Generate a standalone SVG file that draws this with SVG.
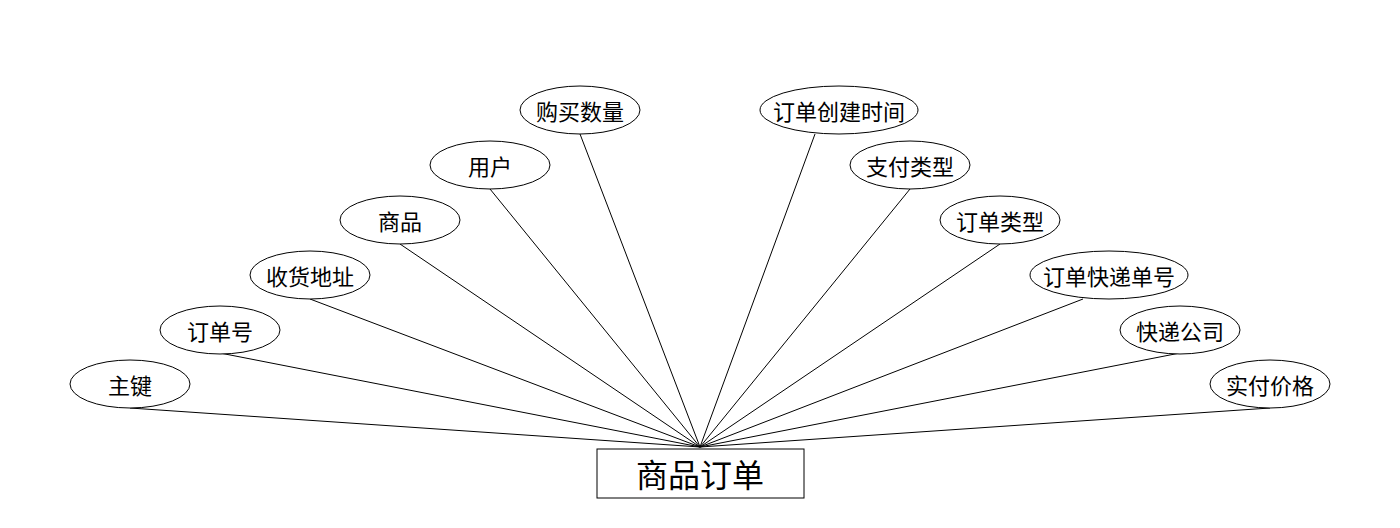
<svg xmlns="http://www.w3.org/2000/svg" width="1400" height="528" viewBox="0 0 1400 528">
<style>
.e{fill:#fff;stroke:#000;stroke-width:1}
.t{font-family:"Noto Sans CJK SC",sans-serif;font-size:22px;text-anchor:middle;dominant-baseline:central;fill:#000}
.c line{stroke:#000;stroke-width:1}
</style>
<rect width="1400" height="528" fill="#fff"/>
<g class="c" id="connectors">
<line x1="130" y1="408" x2="700" y2="447"/>
<line x1="220" y1="353" x2="700" y2="447"/>
<line x1="310" y1="299" x2="700" y2="447"/>
<line x1="400" y1="244" x2="700" y2="447"/>
<line x1="490" y1="189" x2="700" y2="447"/>
<line x1="580" y1="134" x2="700" y2="447"/>
<line x1="815" y1="134" x2="700" y2="447"/>
<line x1="910" y1="189" x2="700" y2="447"/>
<line x1="1000" y1="244" x2="700" y2="447"/>
<line x1="1083" y1="299" x2="700" y2="447"/>
<line x1="1180" y1="353" x2="700" y2="447"/>
<line x1="1270" y1="408" x2="700" y2="447"/>
</g>
<g id="n1"><ellipse class="e" cx="130" cy="384" rx="60" ry="24"/><text class="t" x="130" y="384">主键</text></g>
<g id="n2"><ellipse class="e" cx="220" cy="330" rx="60" ry="24"/><text class="t" x="220" y="330">订单号</text></g>
<g id="n3"><ellipse class="e" cx="310" cy="275" rx="60" ry="24"/><text class="t" x="310" y="275">收货地址</text></g>
<g id="n4"><ellipse class="e" cx="400" cy="220" rx="60" ry="24"/><text class="t" x="400" y="220">商品</text></g>
<g id="n5"><ellipse class="e" cx="490" cy="165" rx="60" ry="24"/><text class="t" x="490" y="165">用户</text></g>
<g id="n6"><ellipse class="e" cx="580" cy="110" rx="60" ry="24"/><text class="t" x="580" y="110">购买数量</text></g>
<g id="n7"><ellipse class="e" cx="839" cy="110" rx="79" ry="24"/><text class="t" x="839" y="110">订单创建时间</text></g>
<g id="n8"><ellipse class="e" cx="910" cy="165" rx="60" ry="24"/><text class="t" x="910" y="165">支付类型</text></g>
<g id="n9"><ellipse class="e" cx="1000" cy="220" rx="60" ry="24"/><text class="t" x="1000" y="220">订单类型</text></g>
<g id="n10"><ellipse class="e" cx="1109" cy="275" rx="79" ry="24"/><text class="t" x="1109" y="275">订单快递单号</text></g>
<g id="n11"><ellipse class="e" cx="1180" cy="330" rx="60" ry="24"/><text class="t" x="1180" y="330">快递公司</text></g>
<g id="n12"><ellipse class="e" cx="1270" cy="384" rx="60" ry="24"/><text class="t" x="1270" y="384">实付价格</text></g>
<g id="main"><rect x="597" y="449" width="207" height="49" fill="#fff" stroke="#000"/><text class="t" x="700" y="473" style="font-size:32px">商品订单</text></g>
</svg>
